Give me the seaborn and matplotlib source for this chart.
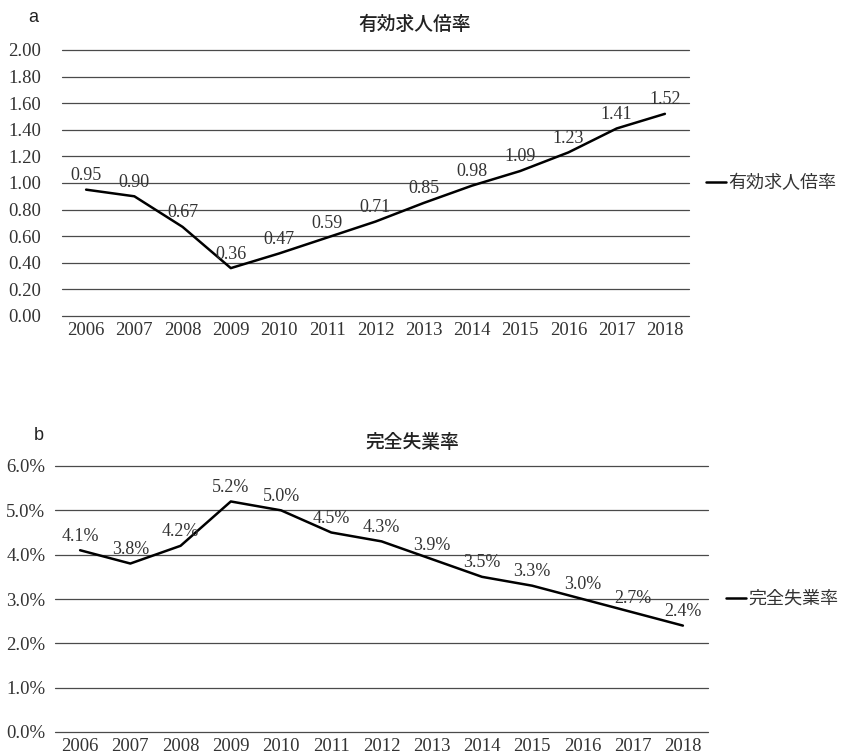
import matplotlib
matplotlib.use("Agg")
import matplotlib.pyplot as plt
import seaborn as sns
import pandas as pd

years = ["2006", "2007", "2008", "2009", "2010", "2011", "2012",
         "2013", "2014", "2015", "2016", "2017", "2018"]
job_ratio = [0.95, 0.90, 0.67, 0.36, 0.47, 0.59, 0.71,
             0.85, 0.98, 1.09, 1.23, 1.41, 1.52]
unemployment = [4.1, 3.8, 4.2, 5.2, 5.0, 4.5, 4.3,
                3.9, 3.5, 3.3, 3.0, 2.7, 2.4]

ratio_ticks = [0.0, 0.2, 0.4, 0.6, 0.8, 1.0, 1.2, 1.4, 1.6, 1.8, 2.0]
rate_ticks = [0.0, 1.0, 2.0, 3.0, 4.0, 5.0, 6.0]

title_a = "有効求人倍率"
title_b = "完全失業率"

sns.set_theme(style="white")
plt.rcParams["font.family"] = ["Liberation Serif", "Noto Sans CJK JP", "DejaVu Sans"]

W, H = 844, 755
fig = plt.figure(figsize=(W / 100, H / 100), dpi=100)
fig.patch.set_facecolor("white")

TXT = "#333333"
GRID = "#4a4a4a"


def px_axes(left, top, right, bottom):
    return fig.add_axes([left / W, 1 - bottom / H, (right - left) / W, (bottom - top) / H])


def draw_panel(ax, values, ticks, fmt, tick_fmt, name, ypad, label_off, legend_gap):
    df = pd.DataFrame({"year": years, "value": values})
    sns.lineplot(data=df, x="year", y="value", ax=ax, color="black",
                 linewidth=1.8, label=name, sort=False)
    ax.set_xlim(-0.5, len(years) - 0.5)
    ax.set_ylim(ticks[0], ticks[-1])
    ax.set_yticks(ticks)
    ax.set_yticklabels([tick_fmt(t) for t in ticks])
    ax.set_xlabel("")
    ax.set_ylabel("")
    for s in ax.spines.values():
        s.set_visible(False)
    for t in ticks:
        ax.axhline(t, color=GRID, linewidth=0.9, zorder=0, clip_on=False)
    ax.tick_params(axis="both", length=0, labelsize=13.5, colors=TXT)
    ax.tick_params(axis="y", pad=ypad)
    ax.tick_params(axis="x", pad=4)
    for i, v in enumerate(values):
        ax.annotate(fmt(v), (i, v), xytext=(0, label_off), textcoords="offset points",
                    ha="center", va="bottom", fontsize=13, color=TXT, zorder=5)
    leg = ax.legend(loc="center left", bbox_to_anchor=(1 + legend_gap, 0.5),
                    frameon=False, handlelength=1.1, handletextpad=0.1,
                    borderaxespad=0, prop={"family": "Noto Sans CJK JP", "size": 13})
    for t in leg.get_texts():
        t.set_color(TXT)


ax1 = px_axes(62, 50, 689, 316)
draw_panel(ax1, job_ratio, ratio_ticks, lambda v: f"{v:.2f}", lambda t: f"{t:.2f}",
           title_a, 15, 4, 0.016)

ax2 = px_axes(55, 466, 708, 732)
draw_panel(ax2, unemployment, rate_ticks, lambda v: f"{v:.1f}%", lambda t: f"{t:.1f}%",
           title_b, 7, 4, 0.017)

fig.text(415 / W, 1 - 24 / H, title_a, ha="center", va="center", fontsize=13.5,
         family="Noto Sans CJK JP", fontweight="medium", color="#222222")
fig.text(412 / W, 1 - 443 / H, title_b, ha="center", va="center", fontsize=13.5,
         family="Noto Sans CJK JP", fontweight="medium", color="#222222")

fig.text(33 / W, 1 - 18 / H, "a", ha="center", va="center", fontsize=13,
         family="Liberation Sans", color="#222222")
fig.text(39 / W, 1 - 436 / H, "b", ha="center", va="center", fontsize=13,
         family="Liberation Sans", color="#222222")

fig.savefig("out.png", dpi=100, facecolor="white")
